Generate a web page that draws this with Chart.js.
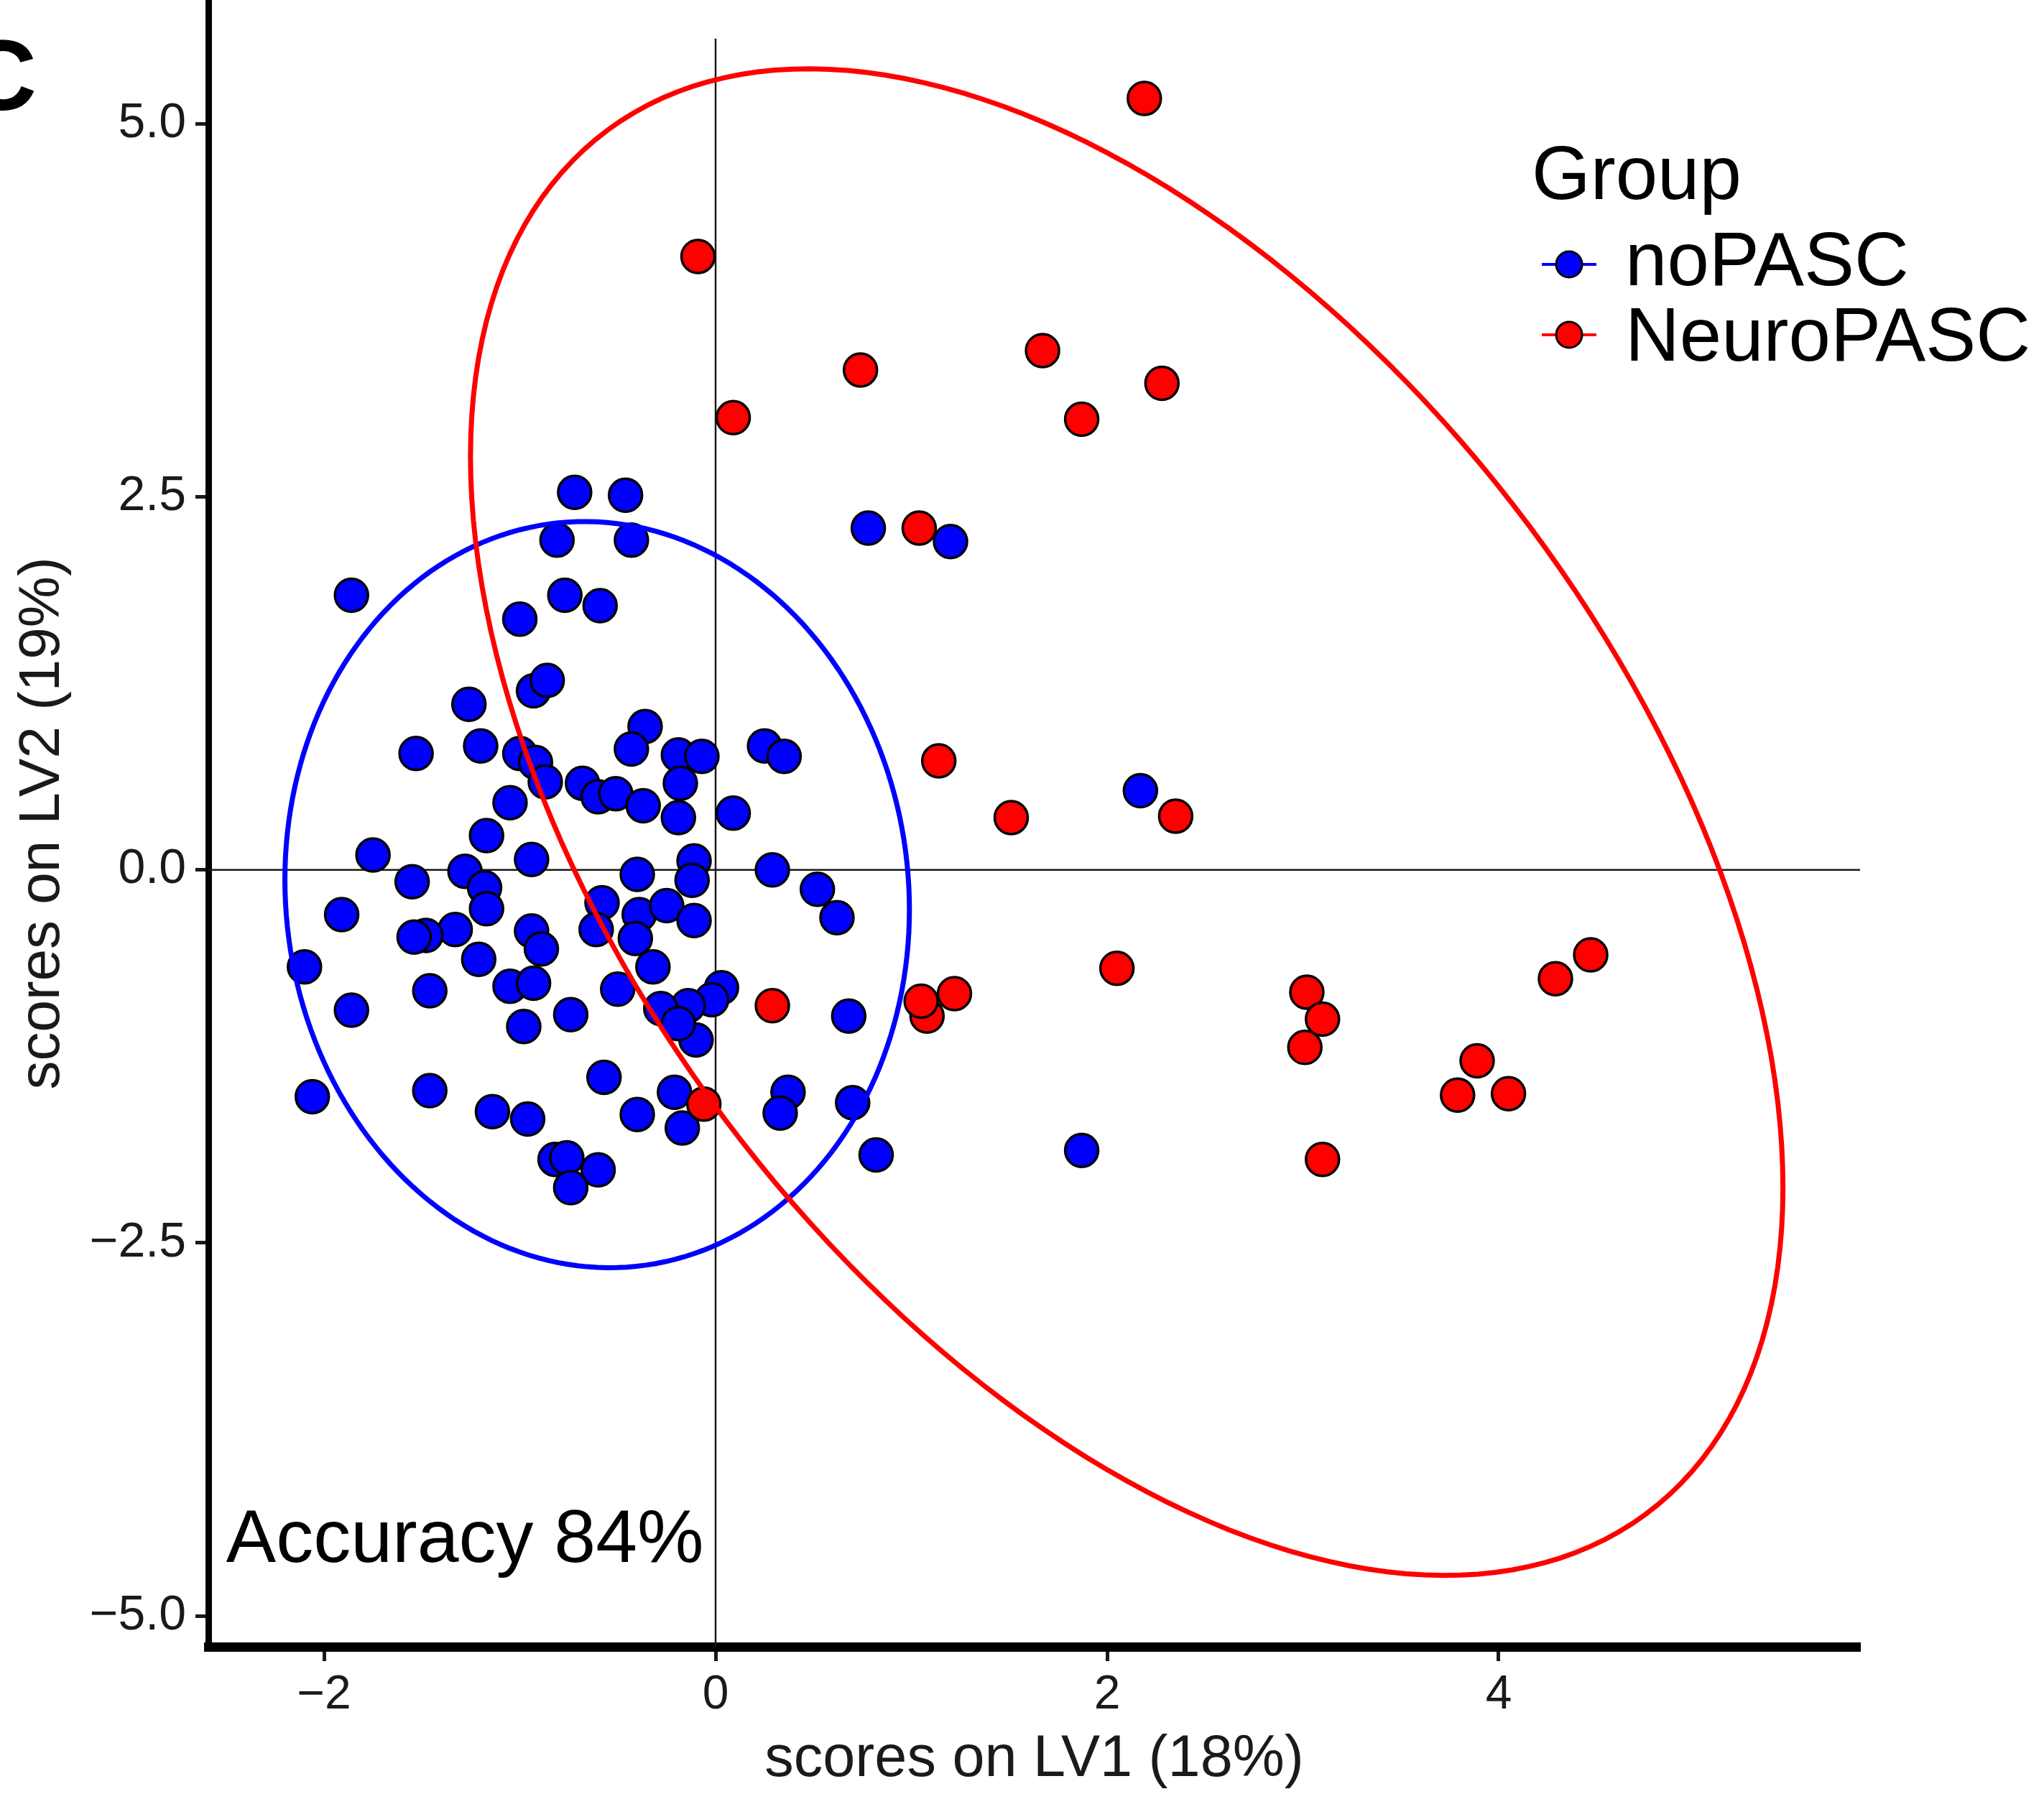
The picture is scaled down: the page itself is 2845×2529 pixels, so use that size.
<!DOCTYPE html>
<html>
<head>
<meta charset="utf-8">
<script src="https://cdn.jsdelivr.net/npm/chart.js@4.4.0/dist/chart.umd.min.js"></script>
<style>
  html, body { margin: 0; padding: 0; background: #fff; }
  #wrap { width: 2845px; height: 2529px; }
</style>
</head>
<body>
<div id="wrap"><canvas id="myChart" width="2845" height="2529"></canvas></div>
<script>
// scores
var noPascX = [-0.72, -0.46, -0.81, -0.43, -1.86, -0.77, -0.59, -1.00, 0.78, 1.20,
  -0.93, -0.86, -1.26, -0.36, -1.53, -1.20, -1.00, -0.92, -0.87, -0.68,
  -0.60, -0.51, -0.43, -0.19, -0.07, -0.18, 0.25, 0.35, -1.05, -0.37,
  -0.19, 0.09, -1.17, -1.75, -0.94, -0.11, -1.28, -1.55, -0.40, 0.29,
  -0.12, -1.18, -1.17, -1.91, 0.52, 0.62, -0.58, -0.39, -0.25, -0.11,
  -1.33, -1.48, -1.54, -0.94, -0.89, -0.61, -0.41, -0.32, -2.10, -1.21,
  -1.46, -1.05, -0.93, -0.50, 0.03, -0.02, -0.14, -0.28, -1.86, -0.74,
  0.68, -0.98, -0.10, -0.57, -1.46, -2.06, -0.21, 0.37, 0.33, 0.70,
  -1.14, -0.96, -0.40, -0.17, 0.82, -0.82, -0.76, -0.60, -0.74, 2.17,
  1.87, -0.19];
var noPascY = [2.53, 2.51, 2.21, 2.21, 1.84, 1.84, 1.77, 1.68, 2.29, 2.20,
  1.20, 1.27, 1.11, 0.96, 0.78, 0.83, 0.78, 0.72, 0.59, 0.58,
  0.49, 0.51, 0.81, 0.77, 0.76, 0.58, 0.83, 0.76, 0.45, 0.43,
  0.35, 0.38, 0.23, 0.10, 0.07, 0.06, -0.01, -0.08, -0.03, 0.00,
  -0.07, -0.12, -0.26, -0.30, -0.13, -0.32, -0.22, -0.30, -0.24, -0.34,
  -0.40, -0.44, -0.45, -0.41, -0.53, -0.40, -0.46, -0.65, -0.65, -0.60,
  -0.81, -0.78, -0.76, -0.80, -0.79, -0.87, -0.91, -0.93, -0.94, -0.97,
  -0.98, -1.05, -1.14, -1.39, -1.48, -1.52, -1.49, -1.49, -1.63, -1.56,
  -1.62, -1.67, -1.64, -1.73, -1.91, -1.94, -1.93, -2.01, -2.13, 0.53,
  -1.88, -1.03];
var neuroX = [2.19, -0.09, 1.67, 0.74, 2.28, 0.09, 1.87, 1.04, 1.14, 1.51,
  2.35, 4.47, 4.29, 2.05, 3.02, 3.10, 3.01, 3.89, 3.79, 4.05,
  3.10, 0.29, 1.08, 1.05, 1.22, -0.06];
var neuroY = [5.17, 4.11, 3.48, 3.35, 3.26, 3.03, 3.02, 2.29, 0.73, 0.35,
  0.36, -0.57, -0.73, -0.66, -0.82, -1.00, -1.19, -1.28, -1.51, -1.50,
  -1.94, -0.91, -0.98, -0.88, -0.83, -1.57];

var xTicks = [-2, 0, 2, 4];
var yTicks = [-5, -2.5, 0, 2.5, 5];
var groups = ["noPASC", "NeuroPASC"];

// ellipse outlines: centre x, centre y, half width, half height, tilt (correlation)
var blueEllipse = [-0.605, -0.166, 1.595, 2.50, -0.04];
var redEllipse = [2.10, 0.32, 3.352, 5.048, -0.485];

var xMin = -2.591, xMax = 5.846, yMin = -5.206, yMax = 5.829;
var zeroLineTop = 5.57;
var accuracy = { text: "Accuracy 84%", x: -2.5, y: -4.64 };

var fam = "'Liberation Sans', Arial, Helvetica, sans-serif";
var blue = "#0000ff";
var red = "#ff0000";

function pts(xs, ys) {
  return xs.map(function (v, i) { return { x: v, y: ys[i] }; });
}
function minus(v, d) {
  var s = Math.abs(v).toFixed(d);
  return v < 0 ? "\u2212" + s : s;
}

function drawEllipse(chart, e, colour) {
  var xs = chart.scales.x, ys = chart.scales.y, ctx = chart.ctx;
  var phi = Math.acos(e[4]);
  ctx.save();
  ctx.strokeStyle = colour;
  ctx.lineWidth = 7;
  ctx.beginPath();
  for (var i = 0; i <= 200; i++) {
    var t = i / 200 * 2 * Math.PI;
    var px = xs.getPixelForValue(e[0] + e[2] * Math.cos(t));
    var py = ys.getPixelForValue(e[1] + e[3] * Math.cos(t - phi));
    if (i === 0) ctx.moveTo(px, py); else ctx.lineTo(px, py);
  }
  ctx.closePath();
  ctx.stroke();
  ctx.restore();
}

var extras = {
  id: "extras",
  beforeDatasetsDraw: function (chart) {
    var ctx = chart.ctx, xs = chart.scales.x, ys = chart.scales.y, a = chart.chartArea;
    ctx.save();
    ctx.strokeStyle = "#1a1a1a";
    ctx.lineWidth = 2.5;
    ctx.beginPath();
    ctx.moveTo(xs.getPixelForValue(0), ys.getPixelForValue(zeroLineTop));
    ctx.lineTo(xs.getPixelForValue(0), a.bottom);
    ctx.moveTo(a.left, ys.getPixelForValue(0));
    ctx.lineTo(a.right, ys.getPixelForValue(0));
    ctx.stroke();
    ctx.restore();
  },
  afterDatasetsDraw: function (chart) {
    drawEllipse(chart, blueEllipse, blue);
    drawEllipse(chart, redEllipse, red);
  },
  afterDraw: function (chart) {
    var ctx = chart.ctx, xs = chart.scales.x, ys = chart.scales.y;
    ctx.save();
    ctx.fillStyle = "#000";
    ctx.textBaseline = "alphabetic";
    ctx.textAlign = "left";

    // annotation
    ctx.font = "104px " + fam;
    ctx.fillText(accuracy.text, xs.getPixelForValue(accuracy.x), ys.getPixelForValue(accuracy.y));

    // panel letter
    ctx.font = "bold 140px " + fam;
    ctx.fillText("C", -50, 153);

    // legend
    ctx.font = "105px " + fam;
    ctx.fillText("Group", 2132, 277);
    var cols = [blue, red];
    var keyY = [368, 466];
    var textY = [397, 502];
    groups.forEach(function (g, i) {
      ctx.strokeStyle = cols[i];
      ctx.lineWidth = 4;
      ctx.beginPath();
      ctx.moveTo(2146, keyY[i]);
      ctx.lineTo(2222, keyY[i]);
      ctx.stroke();
      ctx.beginPath();
      ctx.arc(2184, keyY[i], 18, 0, 2 * Math.PI);
      ctx.fillStyle = cols[i];
      ctx.fill();
      ctx.strokeStyle = "#000";
      ctx.lineWidth = 3;
      ctx.stroke();
      ctx.fillStyle = "#000";
      ctx.fillText(g, 2262, textY[i]);
    });
    ctx.restore();
  }
};

new Chart("myChart", {
  type: "scatter",
  data: {
    datasets: [{
      label: groups[0],
      data: pts(noPascX, noPascY),
      backgroundColor: blue,
      borderColor: "#000",
      borderWidth: 3.5,
      pointRadius: 23,
      order: 2
    }, {
      label: groups[1],
      data: pts(neuroX, neuroY),
      backgroundColor: red,
      borderColor: "#000",
      borderWidth: 3.5,
      pointRadius: 23,
      order: 1
    }]
  },
  options: {
    responsive: false,
    animation: false,
    devicePixelRatio: 1,
    events: [],
    layout: { autoPadding: false, padding: { left: 0, top: 0, right: 256, bottom: 0 } },
    plugins: { legend: { display: false }, tooltip: { enabled: false } },
    scales: {
      x: {
        type: "linear",
        min: xMin,
        max: xMax,
        afterBuildTicks: function (s) { s.ticks = xTicks.map(function (v) { return { value: v }; }); },
        afterFit: function (s) {
          s.height = 237;
          s.paddingLeft = 0; s.paddingRight = 0;
        },
        grid: { drawOnChartArea: false, drawTicks: true, tickLength: 20, tickWidth: 5, tickColor: "#1a1a1a" },
        border: { display: true, color: "#000", width: 13 },
        ticks: {
          font: { family: fam, size: 66 },
          color: "#1a1a1a",
          padding: 8,
          maxRotation: 0,
          callback: function (v) { return minus(v, 0); }
        },
        title: {
          display: true,
          text: "scores on LV1 (18%)",
          font: { family: fam, size: 81 },
          color: "#1a1a1a",
          padding: { top: 0, bottom: 31 }
        }
      },
      y: {
        type: "linear",
        min: yMin,
        max: yMax,
        afterBuildTicks: function (s) { s.ticks = yTicks.map(function (v) { return { value: v }; }); },
        afterFit: function (s) {
          s.width = 290;
          s.paddingTop = 0; s.paddingBottom = 0;
        },
        grid: { drawOnChartArea: false, drawTicks: true, tickLength: 18, tickWidth: 5, tickColor: "#1a1a1a" },
        border: { display: true, color: "#000", width: 9 },
        ticks: {
          font: { family: fam, size: 68 },
          color: "#1a1a1a",
          padding: 13,
          callback: function (v) { return minus(v, 1); }
        },
        title: {
          display: true,
          text: "scores on LV2 (19%)",
          font: { family: fam, size: 80 },
          color: "#1a1a1a",
          padding: { top: 12, bottom: 0 }
        }
      }
    }
  },
  plugins: [extras]
});
</script>
</body>
</html>
